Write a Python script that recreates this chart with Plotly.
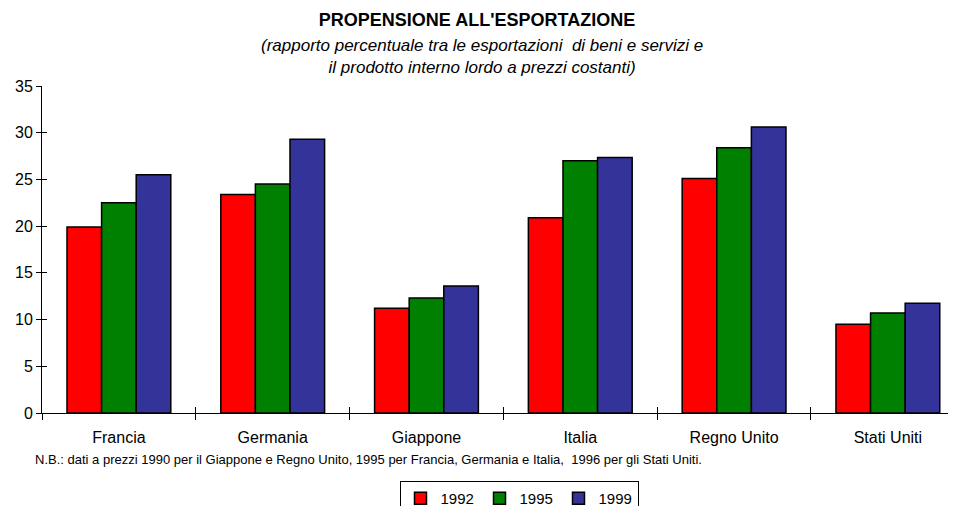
import plotly.graph_objects as go

categories = ["Francia", "Germania", "Giappone", "Italia", "Regno Unito", "Stati Uniti"]
years = ["1992", "1995", "1999"]
v1992 = [19.9, 23.4, 11.2, 20.9, 25.1, 9.5]
v1995 = [22.5, 24.5, 12.3, 27.0, 28.4, 10.7]
v1999 = [25.5, 29.3, 13.6, 27.35, 30.6, 11.75]
colors = ["#FF0000", "#008000", "#333399"]

FONT = "Liberation Sans, Arial, sans-serif"

# the page body adds an 8px offset; the figure is sized to fit the window
W, H = 948, 498
OFF = 8

fig = go.Figure()
for name, vals, col in zip(years, [v1992, v1995, v1999], colors):
    fig.add_trace(go.Bar(
        x=categories, y=vals, name=name,
        marker=dict(color=col, line=dict(color="black", width=1.5)),
    ))

# invisible trace on overlay axes to draw inside ticks (crossing ticks)
fig.add_trace(go.Bar(x=categories, y=[0]*6, xaxis="x2", yaxis="y2",
                     showlegend=False, hoverinfo="skip", marker=dict(opacity=0)))

fig.update_layout(
    width=W, height=H,
    margin=dict(l=42 - OFF, r=6, t=86 - OFF, b=93, autoexpand=False),
    paper_bgcolor="white", plot_bgcolor="white",
    font=dict(family=FONT, color="black"),
    barmode="group", bargap=0.325, bargroupgap=0,
    title=dict(
        text="<b>PROPENSIONE ALL'ESPORTAZIONE</b>",
        x=(477 - OFF) / W, xref="container", xanchor="center",
        y=1 - (20 - OFF) / H, yref="container", yanchor="middle",
        font=dict(size=18, family=FONT, color="black"),
    ),
    xaxis=dict(
        type="category", range=[-0.5, 5.404], automargin=False,
        showline=True, linecolor="black", linewidth=1,
        ticks="outside", tickson="boundaries", ticklen=6, tickcolor="black",
        ticklabelstandoff=10,
        tickfont=dict(size=16, family=FONT, color="black"),
        showgrid=False, zeroline=False,
    ),
    xaxis2=dict(
        type="category", range=[-0.5, 5.404], overlaying="x",
        ticks="inside", tickson="boundaries", ticklen=6, tickcolor="black",
        showticklabels=False, showgrid=False, zeroline=False, showline=False,
    ),
    yaxis=dict(
        range=[0, 35], dtick=5, automargin=False,
        showline=True, linecolor="black", linewidth=1,
        ticks="outside", ticklen=5, tickcolor="black",
        tickfont=dict(size=16, family=FONT, color="black"),
        showgrid=False, zeroline=False,
    ),
    yaxis2=dict(
        range=[0, 35], dtick=5, overlaying="y",
        ticks="inside", ticklen=5, tickcolor="black",
        showticklabels=False, showgrid=False, zeroline=False, showline=False,
    ),
    legend=dict(
        orientation="h", x=(519 - 42) / 908, xanchor="center",
        y=(413 - 481) / 327, yanchor="top",
        bordercolor="black", borderwidth=1,
        font=dict(size=15, family=FONT, color="black"),
        itemwidth=30, tracegroupgap=0,
        entrywidth=34, entrywidthmode="pixels",
    ),
    showlegend=True,
)

fig.add_annotation(
    text="<i>(rapporto percentuale tra le esportazioni  di beni e servizi e<br>il prodotto interno lordo a prezzi costanti)</i>",
    xref="paper", yref="paper", x=(482 - 42) / 908, y=(413 - 56) / 327,
    xanchor="center", yanchor="middle", showarrow=False,
    font=dict(size=17, family=FONT, color="black"), align="center",
)
fig.add_annotation(
    text="N.B.: dati a prezzi 1990 per il Giappone e Regno Unito, 1995 per Francia, Germania e Italia,  1996 per gli Stati Uniti.",
    xref="paper", yref="paper", x=(33 - 42) / 908, y=(413 - 459) / 327,
    xanchor="left", yanchor="middle", showarrow=False,
    font=dict(size=13, family=FONT, color="black"),
)

fig.write_html("out.html")
